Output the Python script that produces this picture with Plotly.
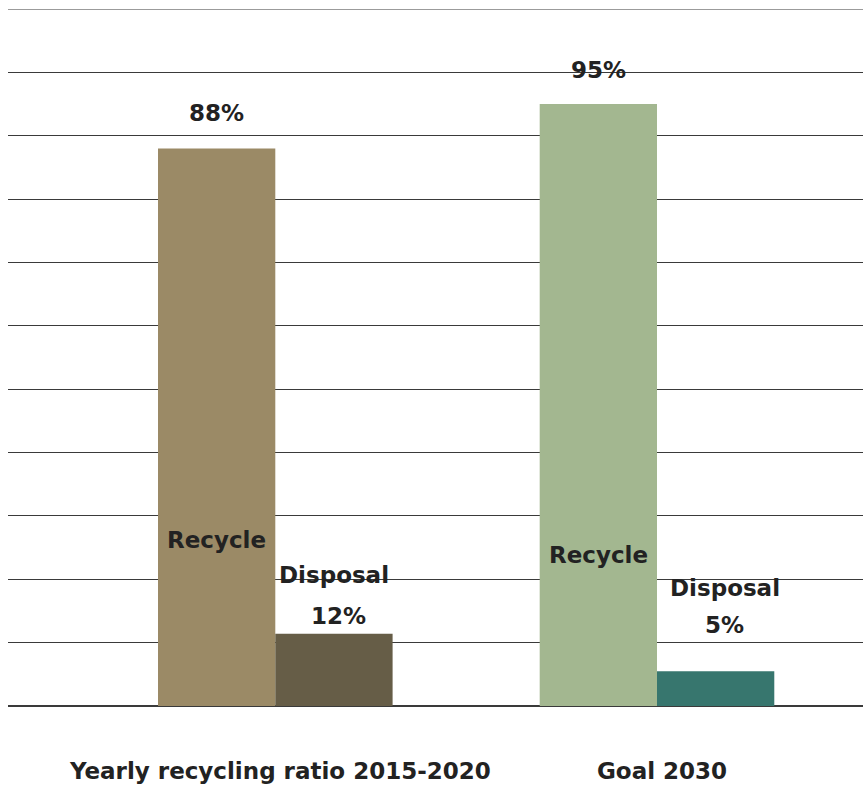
import plotly.graph_objects as go

categories = ["Yearly recycling ratio 2015-2020", "Goal 2030"]
recycle = [88, 95]
disposal = [11.4, 5.5]
recycle_labels = ["88%", "95%"]
disposal_labels = ["12%", "5%"]
recycle_colors = ["#9B8A66", "#A3B790"]
disposal_colors = ["#665D47", "#37766E"]

xpos = [0, 1]
W = 0.3073
FONT = "DejaVu Sans"
TXT = "#222222"

fig = go.Figure()
fig.add_trace(go.Bar(x=xpos, y=recycle, width=W, offset=-W,
                     marker=dict(color=recycle_colors, line=dict(width=0)),
                     name="Recycle", hoverinfo="skip"))
fig.add_trace(go.Bar(x=xpos, y=disposal, width=W, offset=0,
                     marker=dict(color=disposal_colors, line=dict(width=0)),
                     name="Disposal", hoverinfo="skip"))

ann = []
fnt = dict(family=FONT, size=23, color=TXT, weight=700)
top_shift = [35, 34]
rec_shift = [166, 151]
disp_shift = [(131, 90), (118, 81)]
disp_dx = [(0.0, 0.0127), (0.024, 0.024)]
for i, x in enumerate(xpos):
    ann.append(dict(x=x - W / 2, y=recycle[i], text=recycle_labels[i], showarrow=False,
                    xref="x", yref="y", yanchor="middle", yshift=top_shift[i], font=fnt))
    ann.append(dict(x=x - W / 2, y=0, text="Recycle", showarrow=False,
                    xref="x", yref="y", yanchor="middle", yshift=rec_shift[i], font=fnt))
    ann.append(dict(x=x + W / 2 + disp_dx[i][0], y=0, text="Disposal", showarrow=False,
                    xref="x", yref="y", yanchor="middle", yshift=disp_shift[i][0], font=fnt))
    ann.append(dict(x=x + W / 2 + disp_dx[i][1], y=0, text=disposal_labels[i],
                    showarrow=False, xref="x", yref="y", yanchor="middle",
                    yshift=disp_shift[i][1], font=fnt))

fig.update_layout(
    width=863, height=785,
    margin=dict(l=8, r=0, t=9, b=79),
    paper_bgcolor="white", plot_bgcolor="white",
    showlegend=False,
    barmode="overlay",
    annotations=ann,
    xaxis=dict(range=[-0.7003, 1.5397], tickvals=xpos, ticktext=categories,
               showgrid=False, zeroline=False, showline=False, automargin=False,
               ticks="outside", ticklen=44, tickcolor="rgba(0,0,0,0)",
               ticklabelshift=5,
               tickfont=dict(family=FONT, size=23, color=TXT, weight=700)),
    yaxis=dict(range=[0, 110], tickvals=list(range(0, 101, 10)), showticklabels=False,
               showgrid=True, gridcolor="#3a3a3a", gridwidth=1.3, automargin=False,
               zeroline=True, zerolinecolor="#3a3a3a", zerolinewidth=1.5,
               showline=False),
    shapes=[dict(type="line", xref="paper", yref="y", x0=0, x1=1, y0=110, y1=110,
                 line=dict(color="#7a7a7a", width=1.3))],
)

fig.write_html("out.html")
